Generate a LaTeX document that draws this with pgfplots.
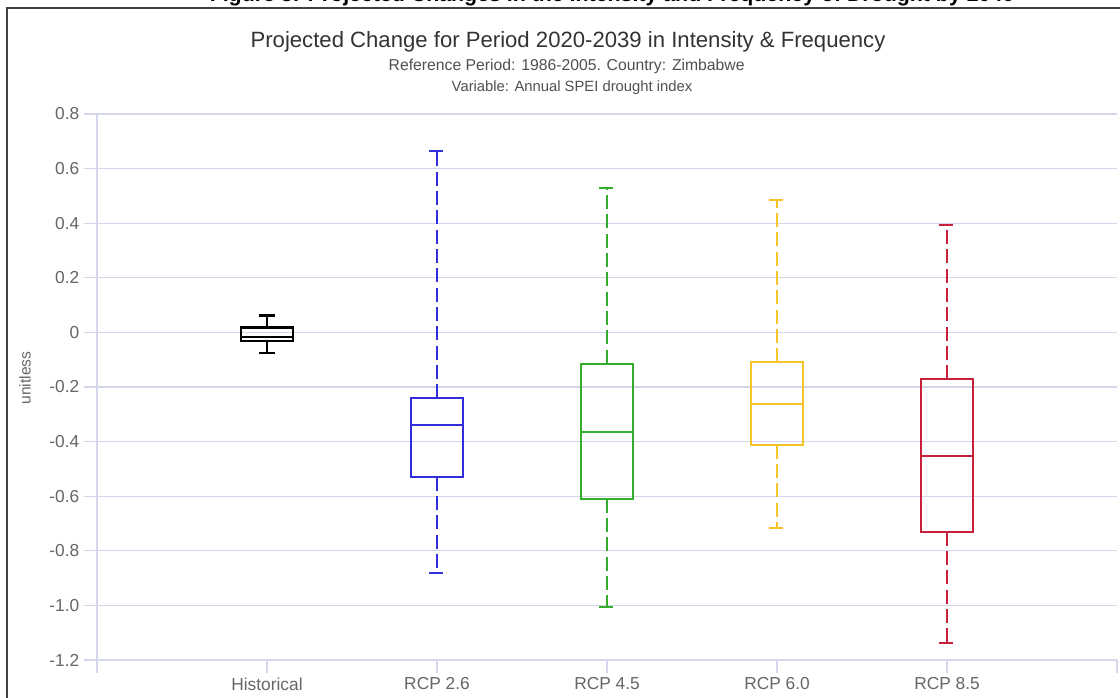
\documentclass[border=0pt]{standalone}
\usepackage{pgfplots}
\pgfplotsset{compat=1.18}
\usepgfplotslibrary{statistics}
\usepackage{fontspec}
\setmainfont{Liberation Sans}
\definecolor{gridc}{RGB}{212,215,236}
\definecolor{tickc}{RGB}{102,102,102}
\definecolor{titlec}{RGB}{51,51,51}
\definecolor{subc}{RGB}{80,80,80}
\definecolor{cblue}{RGB}{50,45,218}
\definecolor{cgreen}{RGB}{52,172,44}
\definecolor{cyellow}{RGB}{246,196,40}
\definecolor{cred}{RGB}{200,32,58}
\begin{document}
\begin{tikzpicture}
\useasboundingbox (0pt,0pt) rectangle (840pt,-523.5pt);
% caption of the report, cut off at the top as in the reference
\node[anchor=base, font=\bfseries\fontsize{16}{18}\selectfont, text=black] at (459pt,-1.5pt) {Figure 3: Projected Changes in the Intensity and Frequency of Drought by 2040};
\fill[white] (0pt,-4.5pt) rectangle (840pt,-523.5pt);
\draw[line width=0.9pt, draw=black!75] (5.25pt,-560pt) -- (5.25pt,-6pt) -- (860pt,-6pt);
\node[anchor=base, font=\fontsize{16.6}{19}\selectfont, text=titlec] at (426pt,-35.5pt) {Projected Change for Period 2020-2039 in Intensity \& Frequency};
\node[anchor=base, font=\fontsize{11.8}{13}\selectfont, text=subc] at (425pt,-53.25pt) {Reference Period: 1986-2005. Country: Zimbabwe};
\node[anchor=base, font=\fontsize{11.1}{13}\selectfont, text=subc] at (429pt,-69pt) {Variable: Annual SPEI drought index};
\node[rotate=90, font=\fontsize{11.7}{14}\selectfont, text=tickc] at (18.75pt,-283.5pt) {unitless};
\begin{axis}[
  at={(72.75pt,-495pt)}, anchor=south west,
  scale only axis, width=765pt, height=409.5pt,
  xmin=-1, xmax=5, ymin=-1.2, ymax=0.8,
  axis x line*=bottom, axis y line*=left,
  axis line style={draw=gridc, line width=0.8pt},
  xtick={-1,0,1,2,3,4,5},
  xticklabels={,Historical,RCP 2.6,RCP 4.5,RCP 6.0,RCP 8.5,},
  ytick={-1.2,-1.0,-0.8,-0.6,-0.4,-0.2,0,0.2,0.4,0.6,0.8},
  yticklabels={-1.2,-1.0,-0.8,-0.6,-0.4,-0.2,0,0.2,0.4,0.6,0.8},
  ymajorgrids, major grid style={draw=gridc, line width=0.8pt},
  tick align=outside, major tick length=9.75pt,
  tick style={draw=gridc, line width=0.8pt},
  ticklabel style={font=\fontsize{13}{15}\selectfont, text=tickc},
  boxplot/draw direction=y,
  boxplot/box extend=0.306,
  boxplot/whisker extend=0.094,
  clip=false,
]
\addplot[black, line width=1.6pt, solid,
  boxplot prepared={draw position=0, lower whisker=-0.077, lower quartile=-0.033,
    median=-0.016, upper quartile=0.018, upper whisker=0.062}]
  coordinates {};
\addplot[cblue, line width=1.5pt, solid,
  boxplot prepared={draw position=1, lower whisker=-0.881, lower quartile=-0.528,
    median=-0.341, upper quartile=-0.242, upper whisker=0.664,
    every whisker/.style={dash pattern=on 10.5pt off 4pt}}]
  coordinates {};
\addplot[cgreen, line width=1.5pt, solid,
  boxplot prepared={draw position=2, lower whisker=-1.006, lower quartile=-0.609,
    median=-0.363, upper quartile=-0.114, upper whisker=0.528,
    every whisker/.style={dash pattern=on 10.5pt off 4pt}}]
  coordinates {};
\addplot[cyellow, line width=1.5pt, solid,
  boxplot prepared={draw position=3, lower whisker=-0.715, lower quartile=-0.411,
    median=-0.261, upper quartile=-0.110, upper whisker=0.485,
    every whisker/.style={dash pattern=on 10.5pt off 4pt}}]
  coordinates {};
\addplot[cred, line width=1.5pt, solid,
  boxplot prepared={draw position=4, lower whisker=-1.138, lower quartile=-0.730,
    median=-0.452, upper quartile=-0.172, upper whisker=0.393,
    every whisker/.style={dash pattern=on 10.5pt off 4pt}}]
  coordinates {};
\end{axis}
\end{tikzpicture}
\end{document}
